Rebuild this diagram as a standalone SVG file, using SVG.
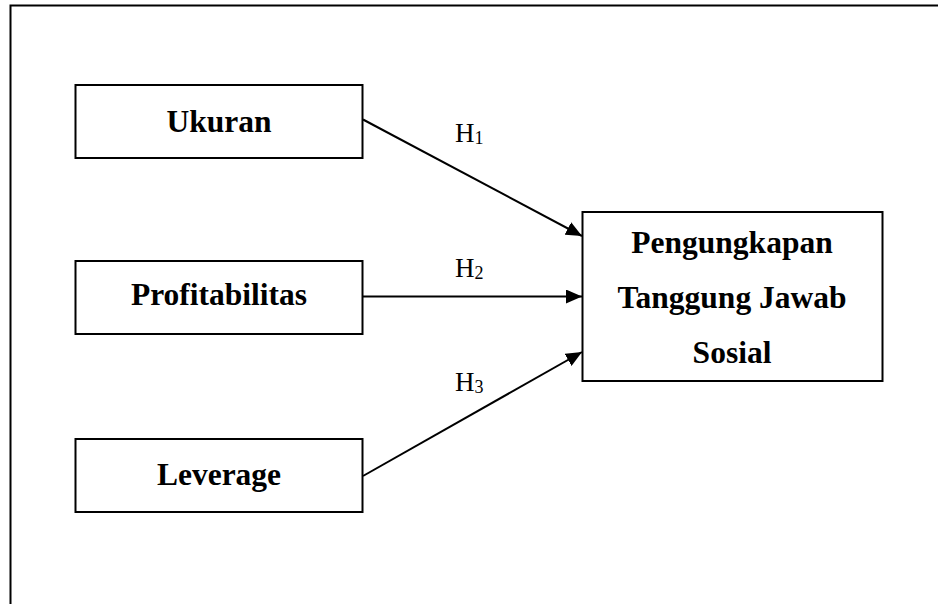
<svg xmlns="http://www.w3.org/2000/svg" width="938" height="604" viewBox="0 0 938 604">
  <style>
    .box { fill: #fff; stroke: #000; stroke-width: 2; }
    .lbl { font-family: "Liberation Serif", "Times New Roman", serif; font-weight: bold; font-size: 31.5px; text-anchor: middle; fill: #000; }
    .h { font-family: "Liberation Serif", "Times New Roman", serif; font-size: 27px; fill: #000; }
    .sub { font-size: 18px; }
    .conn { stroke: #000; stroke-width: 2; fill: none; marker-end: url(#arr); }
  </style>
  <defs>
    <marker id="arr" markerUnits="userSpaceOnUse" markerWidth="16" markerHeight="14" refX="16" refY="7" orient="auto">
      <path d="M0,0 L16,7 L0,14 Z" fill="#000"/>
    </marker>
  </defs>
  <rect x="10.5" y="5.5" width="960" height="640" fill="#fff" stroke="#000" stroke-width="2"/>
  <g id="connectors">
    <line class="conn" x1="363" y1="119.5" x2="582" y2="236"/>
    <line class="conn" x1="363" y1="296.5" x2="582" y2="296.5"/>
    <line class="conn" x1="363" y1="476" x2="582" y2="352"/>
    <text class="h" x="455" y="141.5">H<tspan class="sub" dy="2">1</tspan></text>
    <text class="h" x="455" y="276.5">H<tspan class="sub" dy="2">2</tspan></text>
    <text class="h" x="455" y="390.5">H<tspan class="sub" dy="2">3</tspan></text>
  </g>
  <g id="ukuran">
    <rect class="box" x="75.5" y="85" width="287" height="73"/>
    <text class="lbl" x="219" y="131.5">Ukuran</text>
  </g>
  <g id="profitabilitas">
    <rect class="box" x="75.5" y="261" width="287" height="73"/>
    <text class="lbl" x="219" y="305">Profitabilitas</text>
  </g>
  <g id="leverage">
    <rect class="box" x="75.5" y="439" width="287" height="73"/>
    <text class="lbl" x="219" y="485">Leverage</text>
  </g>
  <g id="pengungkapan">
    <rect class="box" x="582.5" y="212" width="300" height="169"/>
    <text class="lbl" x="732" y="253">Pengungkapan</text>
    <text class="lbl" x="732" y="308">Tanggung Jawab</text>
    <text class="lbl" x="732" y="363">Sosial</text>
  </g>
</svg>
